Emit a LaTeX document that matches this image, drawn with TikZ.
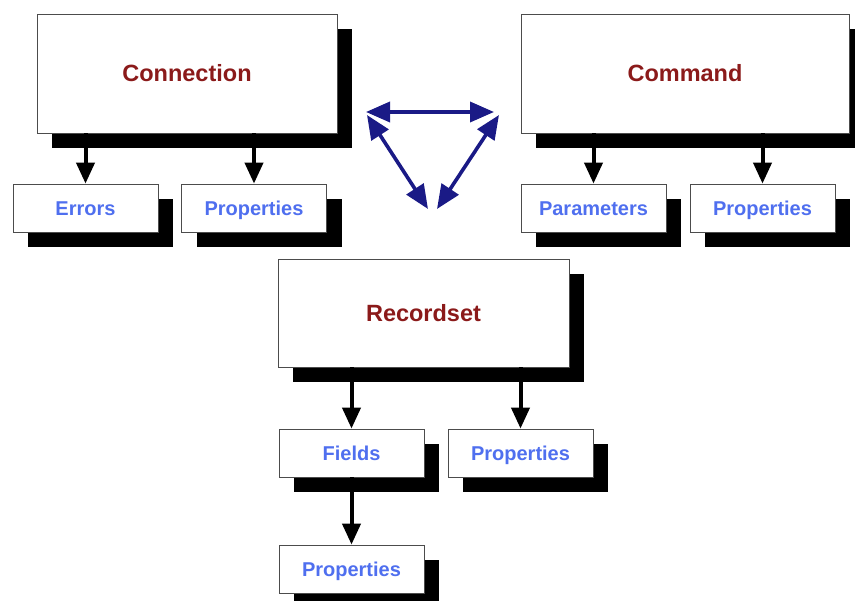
\documentclass[tikz,border=0pt]{standalone}
\usepackage{fontspec}
\setmainfont{Liberation Sans}
\usetikzlibrary{arrows.meta,shadows}
\definecolor{titlered}{HTML}{8B1A1A}
\definecolor{itemblue}{HTML}{4F6FEF}
\definecolor{linknavy}{HTML}{1A1A86}
\tikzset{
  objbox/.style={draw=black!70, line width=0.8pt, fill=white, inner sep=0pt,
    text depth=0pt,
    drop shadow={shadow xshift=15pt, shadow yshift=-15pt, fill=black, opacity=1}},
  bigbox/.style={objbox, minimum height=119pt, text=titlered, text height=16.8pt,
    font=\bfseries\fontsize{23.5}{28}\selectfont},
  smallbox/.style={objbox, minimum width=145pt, minimum height=48pt, text=itemblue,
    text height=14.3pt, font=\bfseries\fontsize{20}{24}\selectfont},
  down/.style={line width=4pt, -{Triangle[width=18pt,length=21pt]}},
  link/.style={draw=linknavy, line width=3.6pt,
    {Triangle[width=20pt,length=24pt]}-{Triangle[width=20pt,length=24pt]}}
}
\begin{document}
\begin{tikzpicture}[x=1pt,y=-1pt]
\useasboundingbox (0,0) rectangle (855,601);

% top-level objects
\node[bigbox, minimum width=300pt] (conn) at (187,73.5) {Connection};
\node[bigbox, minimum width=328pt] (cmd) at (685,73.5) {Command};
\node[bigbox, minimum width=291pt, minimum height=108pt] (rs) at (423.5,313) {Recordset};

% collections
\node[smallbox] (err) at (85.5,208) {Errors};
\node[smallbox] (cprop) at (254,208) {Properties};
\node[smallbox] (par) at (593.5,208) {Parameters};
\node[smallbox] (mprop) at (762.5,208) {Properties};
\node[smallbox] (fld) at (351.5,453) {Fields};
\node[smallbox] (rprop) at (520.5,453) {Properties};
\node[smallbox] (fprop) at (351.5,569) {Properties};

% containment arrows
\draw[down] (err |- conn.south) -- (err.north);
\draw[down] (cprop |- conn.south) -- (cprop.north);
\draw[down] (par |- cmd.south) -- (par.north);
\draw[down] (mprop |- cmd.south) -- (mprop.north);
\draw[down] (fld |- rs.south) -- (fld.north);
\draw[down] (rprop |- rs.south) -- (rprop.north);
\draw[down] (fld.south) -- (fprop.north);

% links between the three objects
\coordinate (ltop) at (366,112);
\coordinate (rtop) at (494,112);
\coordinate (lside) at (367,115);
\coordinate (rside) at (499,115);
\coordinate (lfoot) at (428,209);
\coordinate (rfoot) at (437,209);
\draw[link] (ltop) -- (rtop);
\draw[link] (lside) -- (lfoot);
\draw[link] (rside) -- (rfoot);
\end{tikzpicture}
\end{document}
